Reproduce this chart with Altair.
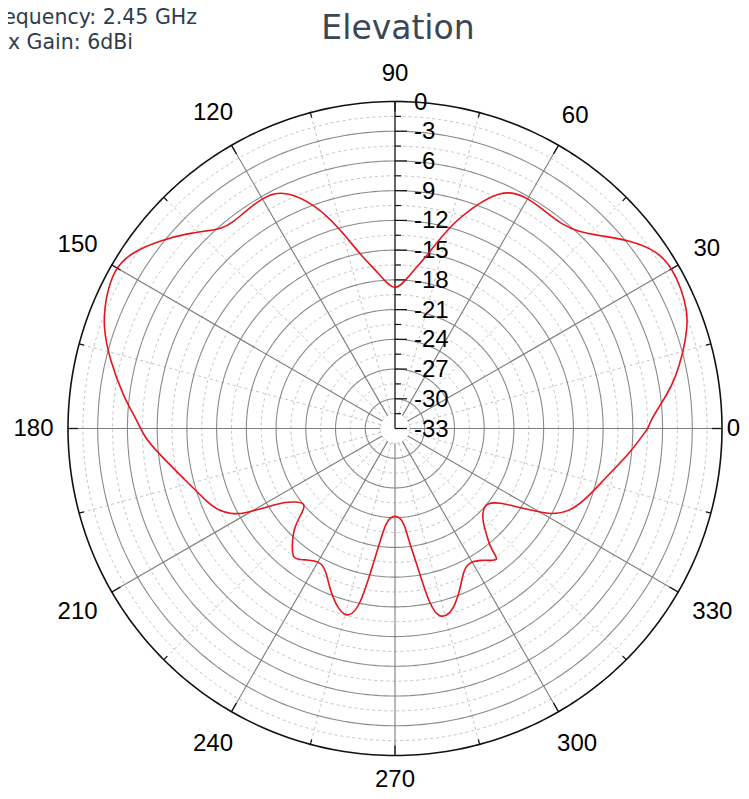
import altair as alt
import pandas as pd

# ---- data (angle in degrees, gain in dB) ----
angles_deg = [0, 2, 4, 7, 10, 15, 19, 22, 26, 30, 34, 39, 43, 47, 51, 54, 57, 60, 63, 66, 70,
              75, 79, 84.5, 90, 95.5, 101, 105.7, 109.7, 114, 117, 120, 124, 128, 131, 133.5,
              136.4, 141.3, 146.5, 150.6, 156, 160.8, 166.5, 173.3, 178, 182, 186, 193.8,
              201.8, 205, 207.7, 209.5, 211.4, 214, 216.7, 219.2, 221.5, 224, 228.8, 231.6,
              233, 236, 240.6, 244, 248.1, 252.7, 256.2, 258.9, 260.9, 262.5, 264.5, 267, 270,
              273, 275.5, 277, 279.1, 281.1, 283.3, 286.6, 289, 291.9, 295.8, 299.4, 303.9,
              305.7, 308.1, 308.4, 308.8, 311.6, 314, 317.3, 321, 324.8, 326.8, 329.7, 331,
              334.6, 340, 347.2, 354, 360]
gain_db = [-7.5, -7.1, -6.5, -5.4, -4.3, -2.85, -1.8, -1.2, -0.85, -0.7, -1.0, -2.75, -4.5,
           -5.9, -6.4, -6.4, -6.3, -6.2, -6.3, -6.9, -8.9, -11.9, -15.0, -17.4, -19.4, -17.4,
           -15.3, -11.85, -9.05, -7.0, -6.3, -6.2, -6.35, -6.55, -6.3, -5.5, -4.4, -2.6, -0.94,
           -0.4, -1.0, -1.8, -3.4, -5.4, -6.9, -7.7, -9.0, -11.2, -12.7, -13.4, -14.4,
           -15.6, -17.8, -19.8, -20.6, -21.1, -20.9, -18.8, -17.2, -16.4, -16.5, -17.0,
           -17.6, -17.1, -15.4, -13.8, -13.3, -14.7, -19.2, -21.6, -23.4, -24.0, -24.2,
           -24.0, -23.4, -21.6, -19.2, -14.7, -13.3, -13.5, -14.3, -15.4, -17.15, -17.6,
           -17.0, -16.6, -16.1, -16.8, -17.7, -19.3, -20.3, -20.9, -21.1, -20.0, -18.7,
           -16.4, -15.1, -13.45, -12.4, -11.1, -9.16, -7.5]

angle_major = [0, 30, 60, 90, 120, 150, 180, 210, 240, 270, 300, 330]
angle_minor = [15, 45, 75, 105, 135, 165, 195, 225, 255, 285, 315, 345]
angle_labels = ["0", "30", "60", "90", "120", "150", "180", "210", "240", "270", "300", "330"]
radial_major = [0, -3, -6, -9, -12, -15, -18, -21, -24, -27, -30, -33]
radial_labels = ["0", "-3", "-6", "-9", "-12", "-15", "-18", "-21", "-24", "-27", "-30", "-33"]
radial_minor = [-1.5, -4.5, -7.5, -10.5, -13.5, -16.5, -19.5, -22.5, -25.5, -28.5, -31.5]
solid_rings = [-3, -6, -9, -12, -15, -18, -21, -24, -27, -30]
info_lines = ["Frequency: 2.45 GHz", "Max Gain: 6dBi"]
title_text = "Elevation"

# ---- layout (pixels) ----
W, H = 733, 783
CX, CY = 387, 420.5
R = 327.0

xs = alt.Scale(domain=[-CX / R, (W - CX) / R], nice=False, zero=False)
ys = alt.Scale(domain=[-(H - CY) / R, CY / R], nice=False, zero=False)


def X(f):
    return alt.X(f, type="quantitative", scale=xs, axis=None)


def Y(f):
    return alt.Y(f, type="quantitative", scale=ys, axis=None)


RAD = "(datum.lvl + 33) / 33"


def rings(levels, **mk):
    return (
        alt.Chart(pd.DataFrame({"lvl": levels}))
        .transform_calculate(a="sequence(0, 361, 1)")
        .transform_flatten(["a"])
        .transform_calculate(r=RAD)
        .transform_calculate(x="datum.r*cos(datum.a*PI/180)", y="datum.r*sin(datum.a*PI/180)")
        .mark_line(**mk)
        .encode(x=X("x"), y=Y("y"), detail="lvl:N", order="a:Q")
    )


def spokes(angles, r0, r1, **mk):
    return (
        alt.Chart(pd.DataFrame({"a": angles}))
        .transform_calculate(
            x=f"{r0}*cos(datum.a*PI/180)", y=f"{r0}*sin(datum.a*PI/180)",
            x2=f"{r1}*cos(datum.a*PI/180)", y2=f"{r1}*sin(datum.a*PI/180)")
        .mark_rule(**mk)
        .encode(x=X("x"), y=Y("y"), x2="x2:Q", y2="y2:Q")
    )


def rticks(levels, length, **mk):
    return (
        alt.Chart(pd.DataFrame({"lvl": levels}))
        .transform_calculate(y=RAD, x="0", x2=f"{length / R}")
        .mark_rule(**mk)
        .encode(x=X("x"), y=Y("y"), x2="x2:Q")
    )


r_in = 1.5 / 33

dashed_rings = rings(radial_minor, color="#c4c4c4", strokeWidth=1, strokeDash=[3, 3])
dashed_spokes = spokes(angle_minor, r_in, 1, color="#c4c4c4", strokeWidth=1, strokeDash=[3, 3])
solid_r = rings(solid_rings, color="#8a8a8a", strokeWidth=1.1)
solid_spokes = spokes([a for a in angle_major if a != 90], r_in, 1, color="#7d7d7d", strokeWidth=1.1)
outer = rings([0], color="#111111", strokeWidth=1.6)
outer_major = spokes(angle_major, 1 - 10 / R, 1, color="#111111", strokeWidth=1.3)
outer_minor = spokes(angle_minor, 1 - 5 / R, 1, color="#111111", strokeWidth=1.2)
vaxis = spokes([90], 0, 1, color="#111111", strokeWidth=1.3)
vt_major = rticks(radial_major, 12, color="#111111", strokeWidth=1.2)
vt_minor = rticks(radial_minor, 6, color="#111111", strokeWidth=1.2)

rlabels = (
    alt.Chart(pd.DataFrame({"lvl": radial_major, "lab": radial_labels}))
    .transform_calculate(y=RAD, x="0")
    .mark_text(align="left", baseline="middle", dx=19, dy=1, fontSize=24,
               font="Liberation Sans", color="#000000")
    .encode(x=X("x"), y=Y("y"), text="lab:N")
)

# label centres: a fixed gap outside the rim, kept inside the canvas
XMAX_LAB = (W - CX - 7.5) / R
YMIN_LAB = -(H - CY - 11) / R
alabels = (
    alt.Chart(pd.DataFrame({"a": angle_major, "lab": angle_labels}))
    .transform_calculate(
        rl=f"(339 + 7.5*length(datum.lab)*abs(cos(datum.a*PI/180)) + 16*abs(sin(datum.a*PI/180)))/{R}")
    .transform_calculate(x=f"min(datum.rl*cos(datum.a*PI/180), {XMAX_LAB})",
                         y=f"max(datum.rl*sin(datum.a*PI/180), {YMIN_LAB})")
    .mark_text(align="center", baseline="middle", fontSize=24, font="Liberation Sans", color="#000000")
    .encode(x=X("x"), y=Y("y"), text="lab:N")
)

curve = (
    alt.Chart(pd.DataFrame({"a": angles_deg, "g": gain_db, "i": list(range(len(angles_deg)))}))
    .transform_calculate(r="(datum.g + 33) / 33")
    .transform_calculate(x="datum.r*cos(datum.a*PI/180)", y="datum.r*sin(datum.a*PI/180)")
    .mark_line(color="#e8141c", strokeWidth=1.6, interpolate="basis")
    .encode(x=X("x"), y=Y("y"), order="i:Q")
)

info1 = alt.Chart(pd.DataFrame({"t": [info_lines[0]]})).mark_text(
    align="right", baseline="alphabetic", fontSize=20.5, font="DejaVu Sans", color="#2f3d4c"
).encode(x=alt.value(189), y=alt.value(15.5), text="t:N")
info2 = alt.Chart(pd.DataFrame({"t": [info_lines[1]]})).mark_text(
    align="right", baseline="alphabetic", fontSize=20.5, font="DejaVu Sans", color="#2f3d4c"
).encode(x=alt.value(125), y=alt.value(40.5), text="t:N")
title = alt.Chart(pd.DataFrame({"t": [title_text]})).mark_text(
    align="center", baseline="alphabetic", fontSize=33, font="DejaVu Sans", color="#3a4755"
).encode(x=alt.value(390), y=alt.value(31), text="t:N")

chart = (
    alt.layer(dashed_rings, dashed_spokes, solid_r, solid_spokes, outer, outer_major,
              outer_minor, vaxis, vt_major, vt_minor, rlabels, alabels, curve,
              info1, info2, title)
    .properties(width=W, height=H, autosize=alt.AutoSizeParams(type="none"), padding=0)
    .configure_view(stroke=None)
)

chart.save("out.html", embed_options={"renderer": "svg", "actions": False})
